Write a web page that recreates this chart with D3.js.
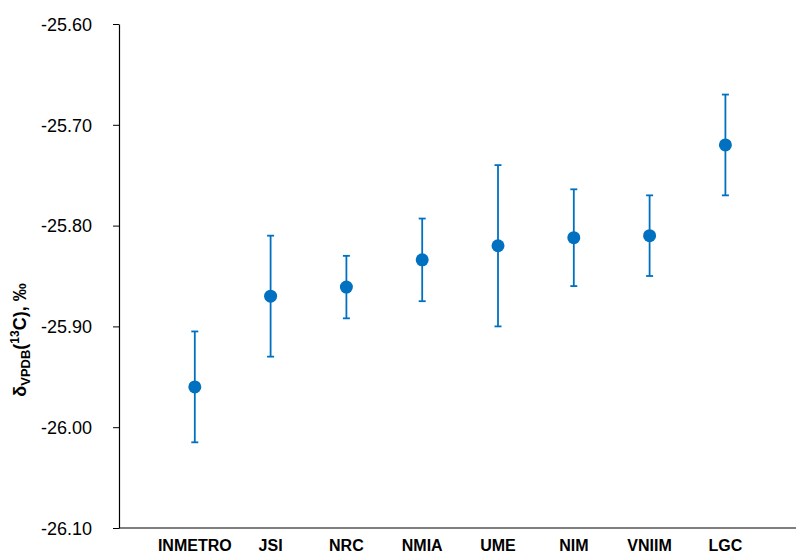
<!DOCTYPE html>
<html><head><meta charset="utf-8">
<script src="https://cdn.jsdelivr.net/npm/d3@7"></script>
<style>body{margin:0;background:#fff}text{font-family:"Liberation Sans",Arial,sans-serif}</style>
</head><body><div id="chart"></div>
<script>
const labs = ["INMETRO","JSI","NRC","NMIA","UME","NIM","VNIIM","LGC"];
const vals = [-25.960,-25.870,-25.861,-25.834,-25.820,-25.812,-25.810,-25.720];
const errs = [0.055,0.060,0.031,0.041,0.080,0.048,0.040,0.050];
const yTicks = [-26.10,-26.00,-25.90,-25.80,-25.70,-25.60];

const width = 796, height = 553;
const svg = d3.select("#chart").append("svg").attr("width", width).attr("height", height);

const y = d3.scaleLinear().domain([-26.10,-25.60]).range([528,24]);
const x = d3.scalePoint().domain(["", ...labs, " "]).range([119, 119 + 75.8*9]);
const col = "#0070C0";

// y axis
const ya = svg.append("g").attr("transform","translate(119,0)")
  .call(d3.axisLeft(y).tickValues(yTicks).tickFormat(d => d.toFixed(2)).tickSize(6).tickSizeOuter(0));
ya.select(".domain").attr("stroke","#000").attr("stroke-width",1.2);
ya.selectAll("text").attr("font-size",18).attr("fill","#000").attr("x",-27).attr("dy","0.35em");

// x axis
svg.append("line").attr("x1",119).attr("x2",796).attr("y1",528).attr("y2",528).attr("stroke","#000").attr("stroke-width",1.2);
svg.append("g").selectAll("text").data(labs).join("text")
  .attr("x",d=>x(d)).attr("y",551).attr("text-anchor","middle")
  .attr("font-size",16).attr("font-weight","bold").text(d=>d);

// error bars
const g = svg.append("g");
labs.forEach((l,i)=>{
  const cx = x(l);
  g.append("line").attr("x1",cx).attr("x2",cx).attr("y1",y(vals[i]+errs[i])).attr("y2",y(vals[i]-errs[i])).attr("stroke",col).attr("stroke-width",1.8);
  [vals[i]+errs[i], vals[i]-errs[i]].forEach(v=>g.append("line").attr("x1",cx-3.5).attr("x2",cx+3.5).attr("y1",y(v)).attr("y2",y(v)).attr("stroke",col).attr("stroke-width",1.8));
  g.append("circle").attr("cx",cx).attr("cy",y(vals[i])).attr("r",6.5).attr("fill",col);
});

// y label
const t = svg.append("text").attr("transform","translate(26,340) rotate(-90)").attr("text-anchor","middle")
  .attr("font-size",18).attr("font-weight","bold");
t.append("tspan").text("δ");
t.append("tspan").attr("font-size",13).attr("dy",4).text("VPDB");
t.append("tspan").attr("dy",-4).text("(");
t.append("tspan").attr("font-size",12).attr("dy",-7).text("13");
t.append("tspan").attr("dy",7).text("C), ‰");
</script></body></html>
